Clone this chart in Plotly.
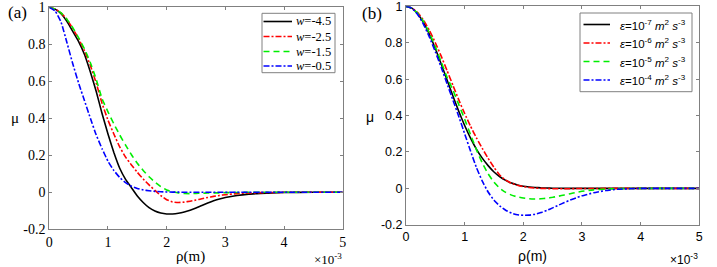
import plotly.graph_objects as go

W, H = 717, 267

# ---------------- data (x in units of 1e-3 m) ----------------
rho = [0, 0.1, 0.2, 0.3, 0.4, 0.5, 0.6, 0.7, 0.8, 0.9, 1.0, 1.1, 1.2, 1.3, 1.4, 1.5,
       1.6, 1.7, 1.8, 1.9, 2.0, 2.1, 2.2, 2.3, 2.4, 2.5, 2.6, 2.7, 2.8, 2.9, 3.0,
       3.2, 3.4, 3.6, 3.8, 4.0, 4.5, 5.0]

# panel (a)
mu_w45 = [1, 0.99, 0.965, 0.925, 0.87, 0.815, 0.745, 0.65, 0.545, 0.425, 0.315, 0.215, 0.13, 0.07, 0.025, -0.02,
          -0.055, -0.083, -0.101, -0.112, -0.117, -0.117, -0.113, -0.106, -0.097, -0.085, -0.071, -0.058, -0.046, -0.036, -0.028,
          -0.017, -0.01, -0.006, -0.003, -0.001, 0, 0]
mu_w25 = [1, 0.99, 0.97, 0.935, 0.885, 0.83, 0.765, 0.685, 0.59, 0.48, 0.39, 0.315, 0.245, 0.19, 0.148, 0.108,
          0.072, 0.04, 0.01, -0.018, -0.04, -0.052, -0.055, -0.053, -0.048, -0.042, -0.035, -0.028, -0.022, -0.017, -0.013,
          -0.007, -0.004, -0.002, -0.001, 0, 0, 0]
mu_w15 = [1, 0.99, 0.97, 0.935, 0.89, 0.835, 0.775, 0.7, 0.61, 0.505, 0.435, 0.37, 0.31, 0.255, 0.203, 0.157,
          0.118, 0.084, 0.055, 0.031, 0.013, 0.003, -0.003, -0.006, -0.007, -0.006, -0.005, -0.004, -0.003, -0.003, -0.002,
          -0.001, 0, 0, 0, 0, 0, 0]
mu_w05 = [1, 0.98, 0.92, 0.81, 0.695, 0.59, 0.495, 0.40, 0.31, 0.235, 0.168, 0.118, 0.08, 0.052, 0.033, 0.021,
          0.013, 0.008, 0.005, 0.003, 0.002, 0.001, 0.001, 0, 0, 0, 0, 0, 0, 0, 0,
          0, 0, 0, 0, 0, 0, 0]

# panel (b)
mu_e7 = [1, 0.99, 0.958, 0.91, 0.845, 0.768, 0.683, 0.595, 0.507, 0.423, 0.345, 0.276, 0.216, 0.166, 0.125, 0.09,
         0.064, 0.044, 0.029, 0.019, 0.012, 0.008, 0.005, 0.003, 0.002, 0.001, 0.001, 0, 0, 0, 0,
         0, 0, 0, 0, 0, 0, 0]
mu_e6 = [1, 0.991, 0.965, 0.923, 0.867, 0.80, 0.726, 0.647, 0.566, 0.486, 0.411, 0.341, 0.278, 0.22, 0.165, 0.115,
         0.072, 0.045, 0.028, 0.017, 0.01, 0.005, 0.002, 0, -0.001, -0.002, -0.002, -0.002, -0.002, -0.001, -0.001,
         -0.001, 0, 0, 0, 0, 0, 0]
mu_e5 = [1, 0.99, 0.961, 0.915, 0.853, 0.778, 0.695, 0.61, 0.54, 0.46, 0.38, 0.295, 0.213, 0.14, 0.08, 0.034,
         0.0, -0.022, -0.037, -0.047, -0.053, -0.057, -0.058, -0.057, -0.054, -0.049, -0.043, -0.036, -0.029, -0.022, -0.016,
         -0.008, -0.004, -0.002, -0.001, 0, 0, 0]
mu_e4 = [1, 0.99, 0.955, 0.9, 0.83, 0.75, 0.665, 0.575, 0.485, 0.395, 0.30, 0.205, 0.115, 0.04, -0.02, -0.065,
         -0.097, -0.12, -0.136, -0.145, -0.148, -0.147, -0.142, -0.133, -0.121, -0.107, -0.092, -0.078, -0.064, -0.052, -0.041,
         -0.024, -0.012, -0.005, -0.002, 0, 0, 0]

names_a = ["<i>w</i>=-4.5", "<i>w</i>=-2.5", "<i>w</i>=-1.5", "<i>w</i>=-0.5"]
names_b = ["<i>ε</i>=10<sup>-7</sup> <i>m</i><sup>2</sup> <i>s</i><sup>-3</sup>",
           "<i>ε</i>=10<sup>-6</sup> <i>m</i><sup>2</sup> <i>s</i><sup>-3</sup>",
           "<i>ε</i>=10<sup>-5</sup> <i>m</i><sup>2</sup> <i>s</i><sup>-3</sup>",
           "<i>ε</i>=10<sup>-4</sup> <i>m</i><sup>2</sup> <i>s</i><sup>-3</sup>"]
x_ticks = [0, 1, 2, 3, 4, 5]
y_ticks = [-0.2, 0, 0.2, 0.4, 0.6, 0.8, 1]
y_ticktext = ["-0.2", "0", "0.2", "0.4", "0.6", "0.8", "1"]

colors = ["#000000", "#ff0000", "#00ee00", "#0000ff"]
dashes = ["solid", "6px,2px,2px,2px", "6px,4px", "6px,2px,2px,2px"]

SERIF = "Liberation Serif"
SANS = "Liberation Sans"

fig = go.Figure()
for ys, nm, c, d in zip([mu_w45, mu_w25, mu_w15, mu_w05], names_a, colors, dashes):
    fig.add_trace(go.Scatter(x=rho, y=ys, name=nm, mode="lines", xaxis="x", yaxis="y", showlegend=False,
                             line=dict(color=c, width=1.6, dash=d, shape="spline", smoothing=0.4)))
for ys, nm, c, d in zip([mu_e7, mu_e6, mu_e5, mu_e4], names_b, colors, dashes):
    fig.add_trace(go.Scatter(x=rho, y=ys, name=nm, mode="lines", xaxis="x2", yaxis="y2", showlegend=False,
                             line=dict(color=c, width=1.6, dash=d, shape="spline", smoothing=0.4)))

# pixel layout
axL = (49.3, 342.7, 7.3, 229.3)   # x0, x1, ytop, ybottom
axR = (406.0, 699.3, 6.3, 224.8)

def px(x):
    return x / W

def py(y):
    return 1 - y / H

def axis_common(font, size):
    return dict(showgrid=False, zeroline=False, showline=True, linecolor="#808080", linewidth=1,
                mirror="ticks", ticks="inside", ticklen=3, tickcolor="#808080",
                ticklabeloverflow="allow",
                tickfont=dict(family=font, size=size, color="#000"))

fig.update_layout(
    width=W, height=H, margin=dict(l=0, r=0, t=0, b=0, autoexpand=False),
    paper_bgcolor="white", plot_bgcolor="white", showlegend=False,
    xaxis=dict(domain=[px(axL[0]), px(axL[1])], range=[0, 5], tickvals=x_ticks, anchor="y",
               **axis_common(SERIF, 14)),
    yaxis=dict(domain=[py(axL[3]), py(axL[2])], range=[-0.2, 1], tickvals=y_ticks, ticktext=y_ticktext,
               anchor="x", **axis_common(SERIF, 14)),
    xaxis2=dict(domain=[px(axR[0]), px(axR[1])], range=[0, 5], tickvals=x_ticks, anchor="y2",
                **axis_common(SANS, 12.5)),
    yaxis2=dict(domain=[py(axR[3]), py(axR[2])], range=[-0.2, 1], tickvals=y_ticks, ticktext=y_ticktext,
                anchor="x2", **axis_common(SANS, 12.5)),
)

ann = []
shapes = []

def txt(x, y, s, font, size, xa="center", ya="middle"):
    ann.append(dict(x=px(x), y=py(y), xref="paper", yref="paper", text=s, showarrow=False,
                    xanchor=xa, yanchor=ya, font=dict(family=font, size=size, color="#000")))

# manual legends (box, line samples, labels)
def legend(box, rows, x_line, x_text, names, font, size):
    x0, x1, y0, y1 = box
    shapes.append(dict(type="rect", xref="paper", yref="paper", x0=px(x0), x1=px(x1), y0=py(y1), y1=py(y0),
                       line=dict(color="#808080", width=1), fillcolor="white", layer="above"))
    for r, nm, c, d in zip(rows, names, colors, dashes):
        shapes.append(dict(type="line", xref="paper", yref="paper", x0=px(x_line[0]), x1=px(x_line[1]),
                           y0=py(r), y1=py(r), line=dict(color=c, width=1.6, dash=d), layer="above"))
        txt(x_text, r, nm, font, size, xa="right")

legend((262, 335, 13.3, 72.7), [21.5, 36.5, 51.5, 66.0], (263.5, 292), 333, names_a, SERIF, 12.5)
legend((580, 692, 13, 91.7), [24.5, 43, 61.5, 80], (583.5, 610), 688, names_b, SANS, 11.5)

txt(17, 12, "(a)", SERIF, 17)
txt(372, 13, "(b)", SERIF, 17)
txt(15, 118, "μ", SERIF, 15)
txt(370, 117, "μ", SANS, 14)
txt(191, 256, "ρ(m)", SERIF, 15)
txt(532, 256, "ρ(m)", SANS, 14)
txt(344, 259, "×10<sup>-3</sup>", SERIF, 13, xa="right")
txt(700, 259, "×10<sup>-3</sup>", SANS, 12, xa="right")
fig.update_layout(annotations=ann, shapes=shapes)

fig.write_html("out.html", config={"displayModeBar": False},
               post_script="document.body.style.margin='0';document.body.style.padding='0';")
